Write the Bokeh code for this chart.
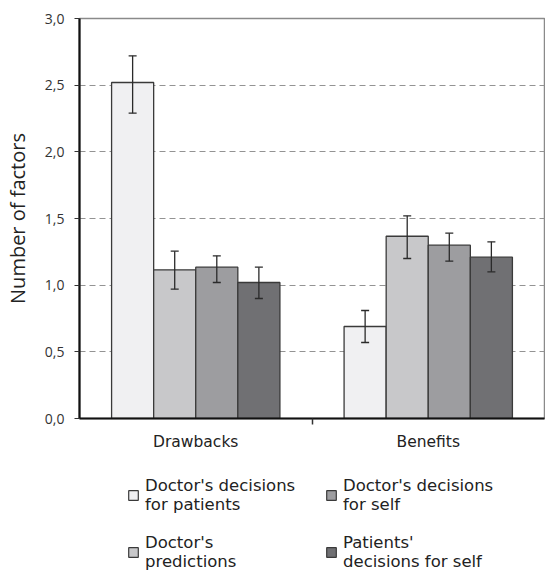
from bokeh.plotting import figure
from bokeh.layouts import column
from bokeh.models import (ColumnDataSource, Whisker, TeeHead, FixedTicker, Legend, LegendItem)
from bokeh.embed import file_html
from bokeh.resources import INLINE

categories = ["Drawbacks", "Benefits"]
series = ["Doctor's decisions\nfor patients", "Doctor's\npredictions",
          "Doctor's decisions\nfor self", "Patients'\ndecisions for self"]
colors = ["#f0f0f2", "#c8c8ca", "#9d9da0", "#707073"]
means = [[2.52, 0.69], [1.115, 1.367], [1.135, 1.30], [1.02, 1.21]]
err_low = [[2.29, 0.57], [0.97, 1.20], [1.02, 1.18], [0.90, 1.10]]
err_high = [[2.72, 0.81], [1.255, 1.52], [1.22, 1.39], [1.135, 1.325]]
y_ticks = [0.0, 0.5, 1.0, 1.5, 2.0, 2.5, 3.0]

bar_w = 0.181
offsets = [-1.5, -0.5, 0.5, 1.5]
edge = "#3a3a3a"

p = figure(width=545, height=455, x_range=(0, 2), y_range=(0, 3),
           output_backend="svg", toolbar_location=None,
           min_border_left=76, min_border_right=1, min_border_top=18,
           min_border_bottom=37)

sources = []
for i, s in enumerate(series):
    xs = [j + 0.5 + offsets[i] * bar_w for j in range(len(categories))]
    src = ColumnDataSource(dict(x=xs, top=means[i], lo=err_low[i], hi=err_high[i]))
    sources.append(src)
    p.vbar(x="x", top="top", width=bar_w, bottom=0, source=src,
           fill_color=colors[i], line_color=edge, line_width=1.3)
    wh = Whisker(base="x", lower="lo", upper="hi", source=src, level="overlay",
                 line_color="#2a2a2a", line_width=1.3,
                 upper_head=TeeHead(size=8, line_color="#2a2a2a", line_width=1.3),
                 lower_head=TeeHead(size=8, line_color="#2a2a2a", line_width=1.3))
    p.add_layout(wh)

# axes
p.yaxis.ticker = FixedTicker(ticks=y_ticks)
p.yaxis.major_label_overrides = {t: f"{t:.1f}".replace(".", ",") for t in y_ticks}
p.yaxis.axis_label = "Number of factors"
p.yaxis.axis_label_text_font = "Open Sans"
p.yaxis.axis_label_text_font_style = "normal"
p.yaxis.axis_label_text_font_size = "20px"
p.yaxis.axis_label_text_color = "#222222"
p.yaxis.axis_label_standoff = 11
p.yaxis.major_label_text_font = "Open Sans"
p.yaxis.major_label_text_font_size = "14px"
p.yaxis.major_label_text_color = "#333333"
p.yaxis.major_label_standoff = 10
p.yaxis.axis_line_color = "#111111"
p.yaxis.axis_line_width = 2.2
p.yaxis.major_tick_in = 0
p.yaxis.major_tick_out = 5
p.yaxis.major_tick_line_color = "#333333"
p.yaxis.minor_tick_line_color = None

p.xaxis.ticker = FixedTicker(ticks=[0.5, 1.5], minor_ticks=[1.0])
p.xaxis.major_label_overrides = {0.5: categories[0], 1.5: categories[1]}
p.xaxis.major_label_text_font = "DejaVu Sans"
p.xaxis.major_label_text_font_size = "15.5px"
p.xaxis.major_label_text_color = "#222222"
p.xaxis.major_label_standoff = 8
p.xaxis.axis_line_color = "#111111"
p.xaxis.axis_line_width = 2.2
p.xaxis.major_tick_line_color = None
p.xaxis.major_tick_out = 6
p.xaxis.minor_tick_in = 0
p.xaxis.minor_tick_out = 6
p.xaxis.minor_tick_line_color = "#333333"
p.xaxis.minor_tick_line_width = 1.5

p.xgrid.grid_line_color = None
p.ygrid.ticker = FixedTicker(ticks=y_ticks)
p.ygrid.grid_line_color = "#939393"
p.ygrid.grid_line_dash = "6 4"
p.ygrid.grid_line_width = 1.1

p.outline_line_color = "#8a8a8a"
p.outline_line_width = 1.5

# legend figure (legend placed under the chart)
lg = figure(width=545, height=118, x_range=(0, 1), y_range=(0, 1),
            output_backend="svg", toolbar_location=None,
            x_axis_location=None, y_axis_location=None,
            min_border=0, min_border_left=0, min_border_right=0,
            min_border_top=0, min_border_bottom=0)
lg.grid.grid_line_color = None
lg.outline_line_color = None
proxies = []
for i, s in enumerate(series):
    proxies.append(lg.vbar(x="x", top="top", width=bar_w, source=sources[i],
                           fill_color=colors[i], line_color=edge, line_width=1.2,
                           visible=False))

legend = Legend(items=[LegendItem(label=s, renderers=[proxies[i]]) for i, s in enumerate(series)],
                ncols=2, orientation="vertical", location=(48, 2),
                label_text_font="DejaVu Sans", label_text_font_size="16.5px",
                label_width=161,
                label_text_color="#222222", glyph_width=12, glyph_height=12,
                spacing=19, label_standoff=6, border_line_color=None,
                inactive_fill_alpha=0,
                background_fill_alpha=0, padding=0, margin=0)
lg.add_layout(legend, "center")

layout = column(p, lg, spacing=0)
open("out.html", "w").write(file_html(layout, INLINE))
